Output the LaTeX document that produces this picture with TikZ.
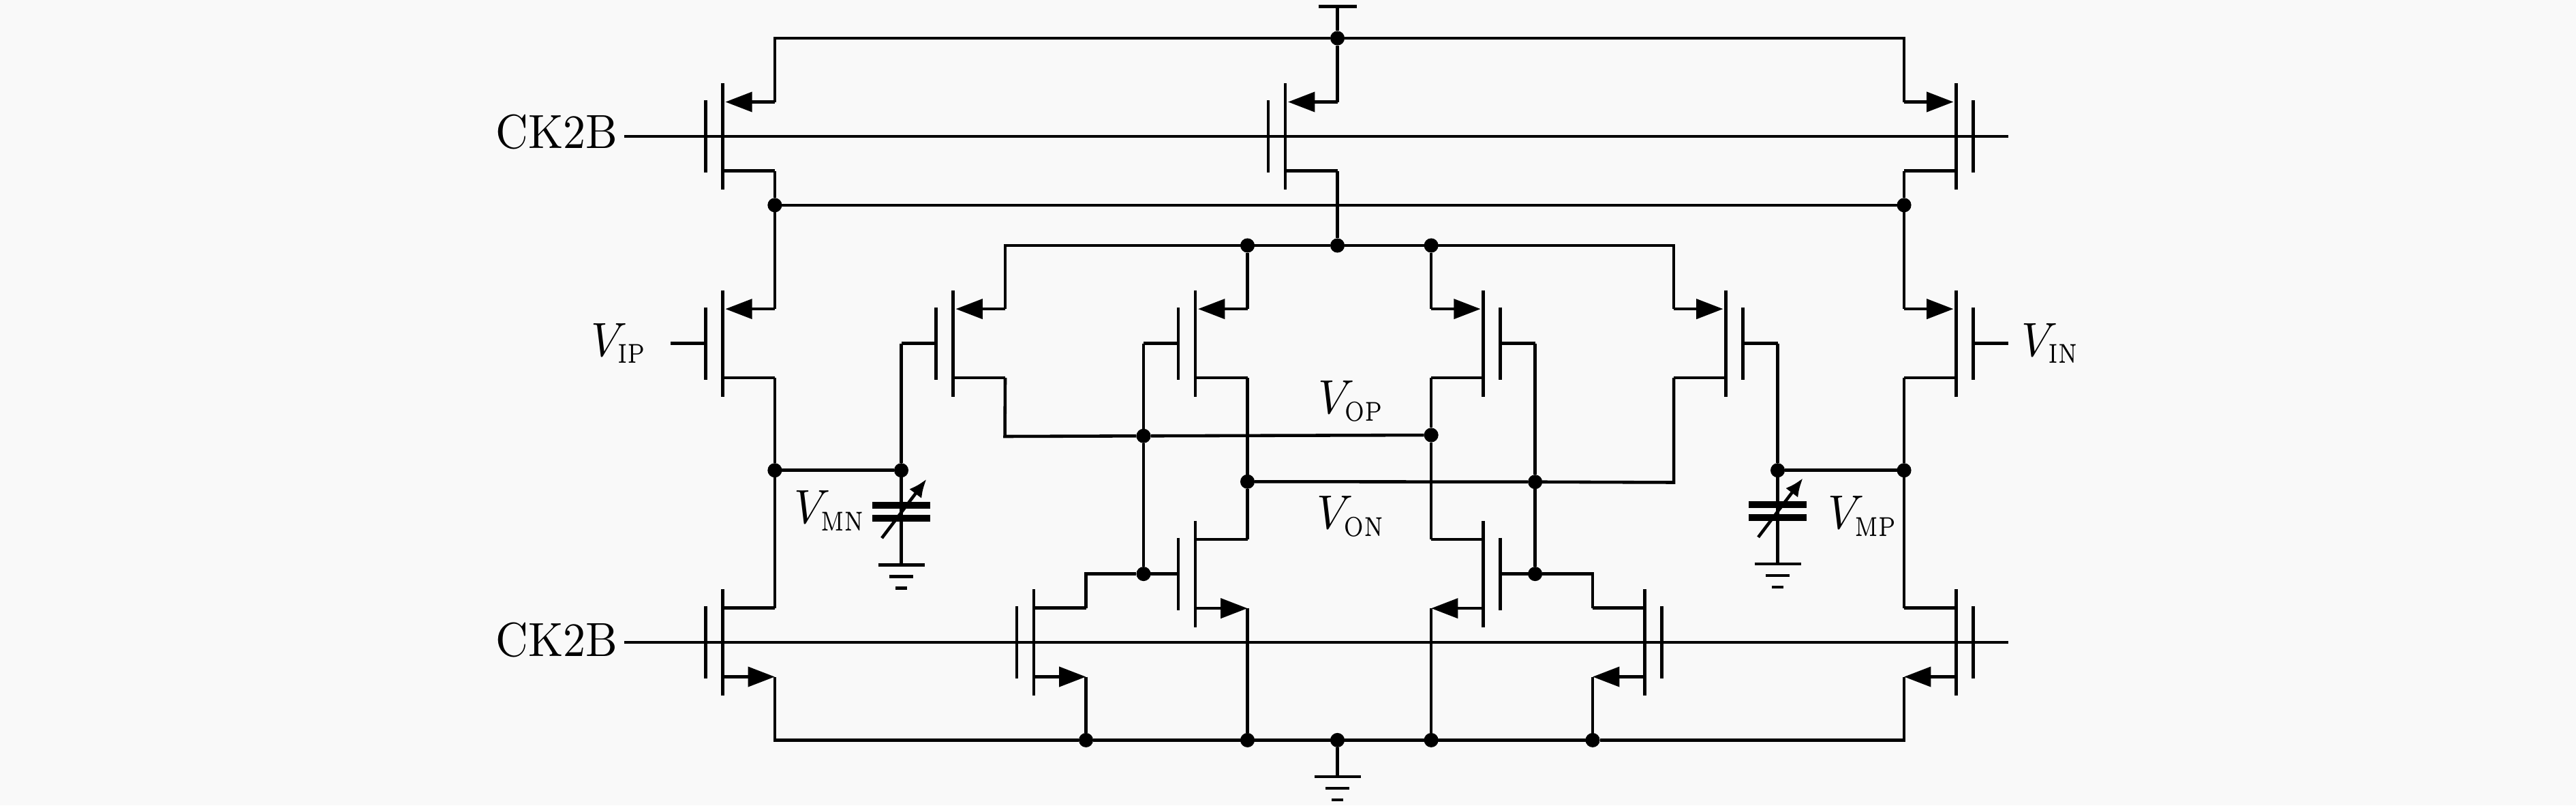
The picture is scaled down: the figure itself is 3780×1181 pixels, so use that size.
\documentclass[tikz,border=0pt]{standalone}
\usepackage{amsmath}
\usetikzlibrary{arrows.meta,positioning}
\definecolor{bgfill}{HTML}{F9F9F9}
\newcommand\vsub[1]{$V_{\scalebox{.88}[1.14]{$\scriptscriptstyle\mathrm{#1}$}}$}
\tikzset{
  mostip/.style={-{Triangle[length=5.6pt,width=4.1pt]}},
  lbl/.style={inner sep=1.5pt,outer sep=0pt,xscale=0.94,transform shape},
  dot/.style={circle,fill=black,inner sep=0pt,outer sep=0pt,minimum size=3pt},
  pmospic/.pic={
    \draw (0,-78) -- (0,78);
    \draw (-25,-53) -- (-25,53);
    \draw (-25,0) -- (-76,0) coordinate (-g);
    \draw (0,50.5) -- (76.5,50.5) coordinate (-d);
    \draw[mostip] (76.5,-50.5) coordinate (-s) -- (4,-50.5);
  },
  nmospic/.pic={
    \draw (0,-78) -- (0,78);
    \draw (-25,-53) -- (-25,53);
    \draw (-25,0) -- (-76,0) coordinate (-g);
    \draw (0,-50.5) -- (76.5,-50.5) coordinate (-d);
    \draw[mostip] (0,50.5) -- (76.5,50.5) coordinate (-s);
  },
  gndpic/.pic={
    \coordinate (-t) at (0,0);
    \draw (-34,0) -- (34,0);
    \draw (-17.5,17) -- (17.5,17);
    \draw (-8.5,34) -- (8.5,34);
  },
  varcappic/.pic={
    \draw[line width=1.42pt] (-42.5,-9.5) -- (42.5,-9.5);
    \draw[line width=1.42pt] (-42.5,9.5) -- (42.5,9.5);
    \draw[-{Latex[length=3.8pt,width=3.2pt]}] (-28.5,38.5) -- (37,-48);
  }
}
\begin{document}
\begin{tikzpicture}[x=0.005cm,y=-0.005cm,line width=0.65pt]
\useasboundingbox (0,0) rectangle (3780,1181);
\fill[bgfill] (0,0) rectangle (3780,1181);

% top row
\pic (ptl) at (1060.4,200) {pmospic};
\pic (ptm) at (1886,200) {pmospic};
\pic[xscale=-1] (ptr) at (2870.5,200) {pmospic};

% input and differential row
\pic (pil) at (1060.4,503.6) {pmospic};
\pic (pdl1) at (1398.5,503.6) {pmospic};
\pic (pdl2) at (1754,503.6) {pmospic};
\pic[xscale=-1] (pdr2) at (2176.6,503.6) {pmospic};
\pic[xscale=-1] (pdr1) at (2532.5,503.6) {pmospic};
\pic[xscale=-1] (pir) at (2870.5,503.6) {pmospic};

% lower rows
\pic (ncl) at (1754,841.6) {nmospic};
\pic[xscale=-1] (ncr) at (2176.6,841.6) {nmospic};
\pic (nbl) at (1060.4,942) {nmospic};
\pic (nbm1) at (1517,942) {nmospic};
\pic[xscale=-1] (nbm2) at (2413.5,942) {nmospic};
\pic[xscale=-1] (nbr) at (2870.5,942) {nmospic};

\pic (gndl) at (1322.5,828.3) {gndpic};
\pic (gndr) at (2608.5,827) {gndpic};
\pic (gndb) at (1962.5,1139) {gndpic};
\pic at (1322.5,750.6) {varcappic};
\pic at (2608.5,749.3) {varcappic};

\node[dot] (jvdd) at (1962.5,56) {};
\node[dot] (jl) at (1136.9,300.8) {};
\node[dot] (jr) at (2794,300.8) {};
\node[dot] (jtail) at (1962.5,360) {};
\node[dot] (jbl) at (1830.5,360) {};
\node[dot] (jbr) at (2100.1,360) {};
\node[dot] (jml) at (1136.9,689.7) {};
\node[dot] (jcl) at (1322.5,689.7) {};
\node[dot] (jcr) at (2608.5,689.7) {};
\node[dot] (jmr) at (2794,689.7) {};
\node[dot] (jopl) at (1678,639.3) {};
\node[dot] (jopr) at (2100.1,638) {};
\node[dot] (jonl) at (1830.5,706.3) {};
\node[dot] (jonr) at (2252.6,706.7) {};
\node[dot] (jgl) at (1678,841.6) {};
\node[dot] (jgr) at (2252.6,841.6) {};
\node[dot] (jb1) at (1593.5,1085.4) {};
\node[dot] (jb2) at (1830.5,1085.4) {};
\node[dot] (jb3) at (1962.5,1085.4) {};
\node[dot] (jb4) at (2100.1,1085.4) {};
\node[dot] (jb5) at (2337,1085.4) {};
\coordinate (copl) at (1474.5,640);
\coordinate (conr) at (2456,707.5);
\coordinate (vdd) at (1962.5,9.6);

\node[lbl,anchor=east] (ckt) at (916,194) {CK2B};
\node[lbl,anchor=east] (ckb) at (916,938) {CK2B};
\node[lbl,left=3.5pt of pil-g] (vip) {\vsub{IP}};
\node[lbl,right=1.5pt of pir-g] (vin) {\vsub{IN}};
\node[lbl] (vop) at (1983,588) {\vsub{OP}};
\node[lbl] (von) at (1983,757) {\vsub{ON}};
\node[lbl] (vmn) at (1218,749) {\vsub{MN}};
\node[lbl] (vmp) at (2734,757) {\vsub{MP}};

% supply and clock lines
\draw (vdd) ++(-28,0) -- ++(56,0);
\draw (vdd) -- (jvdd) -- (ptm-s);
\draw (ptl-s) |- (jvdd) -| (ptr-s);
\draw (ckt.east |- ptl-g) -- (ptr-g);
\draw (ckb.east |- nbl-g) -- (nbr-g);

\draw (ptl-d) -- (jl) -- (pil-s);
\draw (ptr-d) -- (jr) -- (pir-s);
\draw (jl) -- (jr);
\draw (ptm-d) -- (jtail);
\draw (pdl1-s) |- (jtail) -| (pdr1-s);
\draw (jbl) -- (pdl2-s);
\draw (jbr) -- (pdr2-s);

\draw (pil-d) -- (jml) -- (nbl-d);
\draw (pir-d) -- (jmr) -- (nbr-d);
\draw (jml) -- (jcl);
\draw (jmr) -- (jcr);
\draw (pdl1-g) -- (jcl) -- (gndl-t);
\draw (pdr1-g) -- (jcr) -- (gndr-t);

% cross coupling
\draw (pdl1-d) -- (copl) -- (jopl) -- (jopr);
\draw (pdr1-d) -- (conr) -- (jonr) -- (jonl);
\draw (pdl2-g) -- (jopl) -- (jgl);
\draw (pdr2-g) -- (jonr) -- (jgr);
\draw (pdl2-d) -- (jonl) -- (ncl-d);
\draw (pdr2-d) -- (jopr) -- (ncr-d);
\draw (jgl) -| (nbm1-d);
\draw (jgr) -| (nbm2-d);

% ground rail
\draw (nbl-s) |- (jb1) -- (jb5) -| (nbr-s);
\draw (nbm1-s) -- (jb1);
\draw (ncl-s) -- (jb2);
\draw (jb3) -- (gndb-t);
\draw (ncr-s) -- (jb4);
\draw (nbm2-s) -- (jb5);
\end{tikzpicture}
\end{document}
